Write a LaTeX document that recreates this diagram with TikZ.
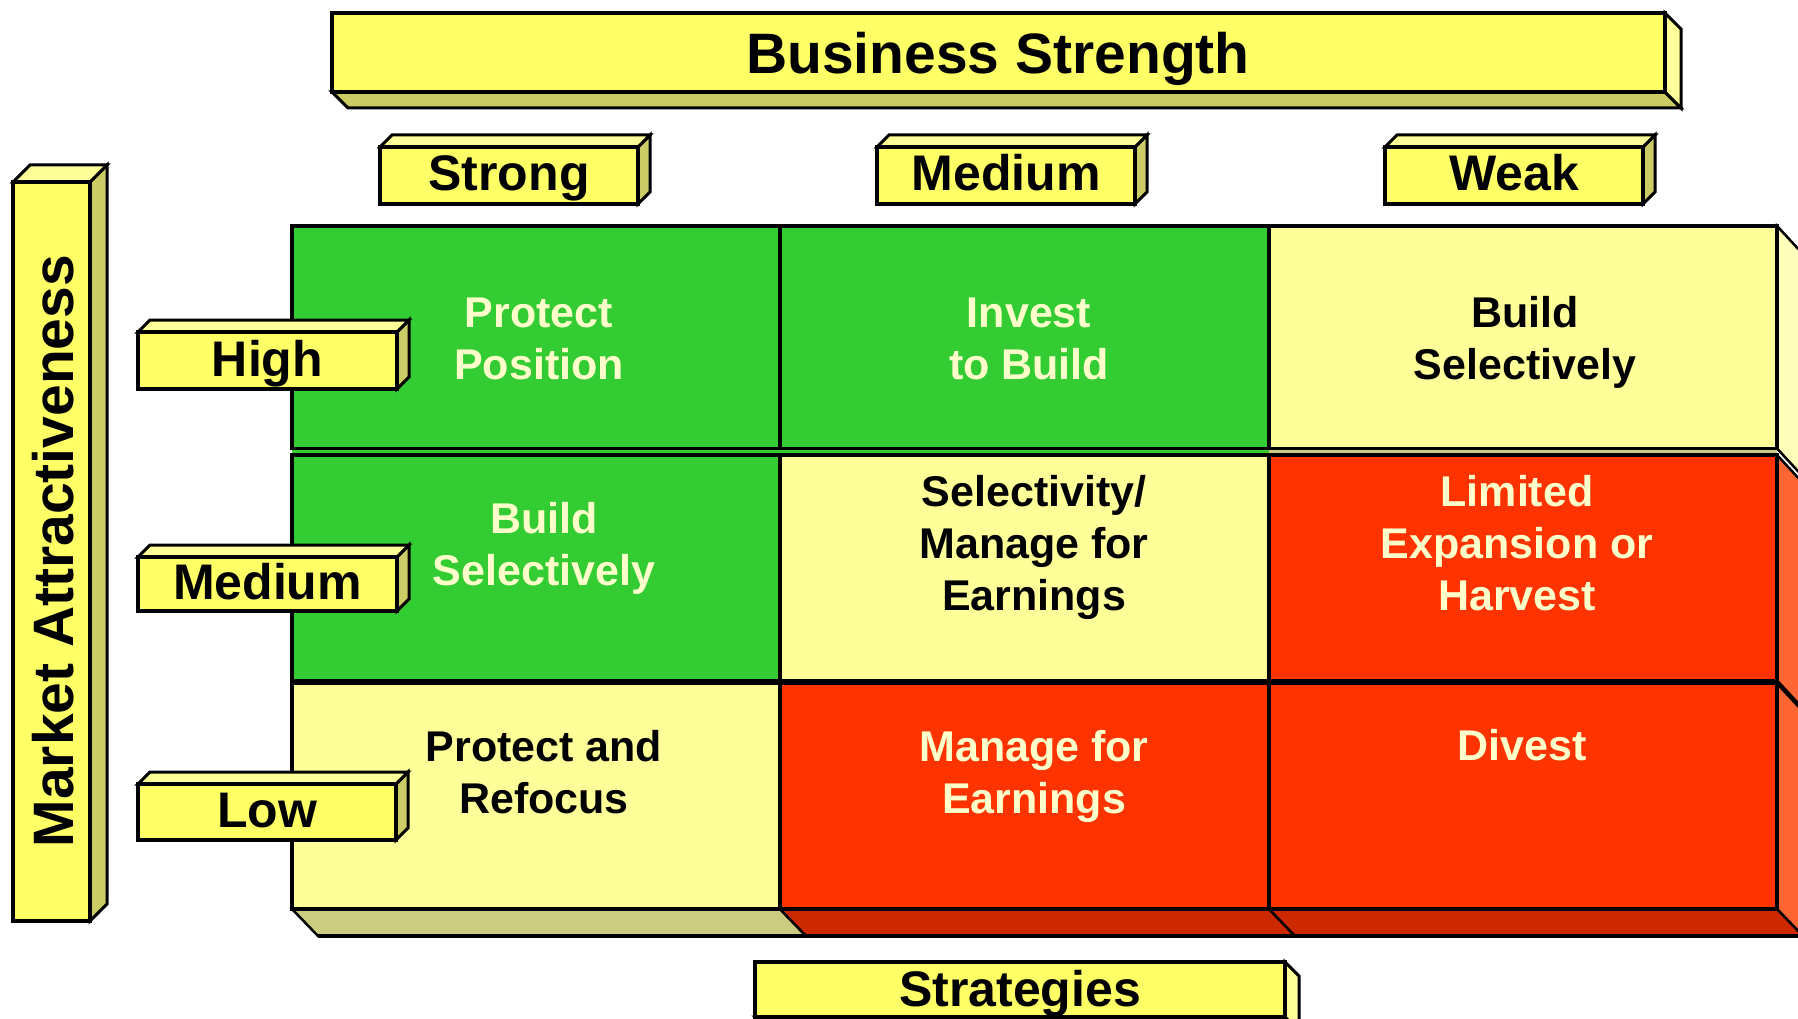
\documentclass[tikz,border=0pt]{standalone}
\usepackage{fontspec}
\setmainfont{Liberation Sans}
\definecolor{lbfront}{HTML}{FFFF66}
\definecolor{lbtop}{HTML}{FFFF99}
\definecolor{lbshade}{HTML}{CCCC66}
\definecolor{cgreen}{HTML}{33CC33}
\definecolor{cyellow}{HTML}{FFFF99}
\definecolor{cred}{HTML}{FF3300}
\definecolor{sideY}{HTML}{FFFFBB}
\definecolor{sideR}{HTML}{FF6633}
\definecolor{botY}{HTML}{CCCC80}
\definecolor{botR}{HTML}{CC2900}
\definecolor{ltext}{HTML}{FFFFCC}
\newcommand\boxur[7]{%
  \filldraw[fill=lbshade, draw=black, line width=3pt] (#4,#3) -- ++(#6,-#6) -- ({#4+#6},{#5-#6}) -- (#4,#5) -- cycle;
  \filldraw[fill=lbtop, draw=black, line width=3pt] (#2,#3) -- ++(#6,-#6) -- ({#4+#6},{#3-#6}) -- (#4,#3) -- cycle;
  \filldraw[fill=lbfront, draw=black, line width=3.5pt] (#2,#3) rectangle (#4,#5);
  \node[lbl, anchor=base] (#1) at ({(#2+#4)/2},{(#3+#5)/2+15.5}) {#7};}
\newcommand\boxdr[7]{%
  \filldraw[fill=lbshade, draw=black, line width=3pt] (#2,#5) -- ++(#6,#6) -- ({#4+#6},{#5+#6}) -- (#4,#5) -- cycle;
  \filldraw[fill=lbtop, draw=black, line width=3pt] (#4,#3) -- ++(#6,#6) -- ({#4+#6},{#5+#6}) -- (#4,#5) -- cycle;
  \filldraw[fill=lbfront, draw=black, line width=3.5pt] (#2,#3) rectangle (#4,#5);
  \node[lbl, anchor=base] (#1) at ({(#2+#4)/2},{(#3+#5)/2+17}) {#7};}
\begin{document}
\begin{tikzpicture}[x=1pt,y=-1pt,line join=miter,
  lbl/.style={font=\bfseries\fontsize{50}{60}\selectfont, text=black, inner sep=0pt},
  bigl/.style={font=\bfseries\fontsize{57}{68}\selectfont, text=black, inner sep=0pt},
  celltxt/.style={font=\bfseries\fontsize{43}{52}\selectfont, align=center, inner sep=0pt},
  edge/.style={draw=black, line width=3.5pt},
  thinedge/.style={draw=black, line width=2.5pt}]
\useasboundingbox (0,0) rectangle (1798,1019);
\clip (0,0) rectangle (1798,1019);

% Business Strength header
\boxdr{bs}{332}{13}{1665}{92}{16}{}
\node[bigl, anchor=base] (bstxt) at (998,74) {Business Strength};

% column headers
\boxur{hstrong}{380}{147}{638}{204}{12}{Strong}
\boxur{hmedium}{877}{147}{1135}{204}{12}{Medium}
\boxur{hweak}{1385}{147}{1643}{204}{12}{Weak}

% vertical Market Attractiveness
\filldraw[fill=lbshade, draw=black, line width=3pt] (90,182) -- (107,165) -- (107,904) -- (90,921) -- cycle;
\filldraw[fill=lbtop, draw=black, line width=3pt] (13,182) -- (30,165) -- (107,165) -- (90,182) -- cycle;
\filldraw[fill=lbfront, draw=black, line width=3.5pt] (13,182) rectangle (90,921);
\node[bigl, rotate=90] (matxt) at (53,551) {Market Attractiveness};

% grid: side faces
\filldraw[fill=sideY, thinedge] (1777,226) -- (1802,253) -- (1802,475.5) -- (1777,448.5) -- cycle;
\filldraw[fill=sideR, thinedge] (1777,455) -- (1802,482) -- (1802,707.5) -- (1777,680.5) -- cycle;
\filldraw[fill=sideR, thinedge] (1777,683.5) -- (1802,710.5) -- (1802,936) -- (1777,909) -- cycle;
% bottom faces
\filldraw[fill=botY, thinedge] (292,909) -- (318,936) -- (806,936) -- (780,909) -- cycle;
\filldraw[fill=botR, thinedge] (780,909) -- (806,936) -- (1295,936) -- (1269,909) -- cycle;
\filldraw[fill=botR, thinedge] (1269,909) -- (1295,936) -- (1803,936) -- (1777,909) -- cycle;
\draw[edge] (318,936) -- (1803,936);
% strip between row 1 and row 2
\fill[cgreen] (292,448) rectangle (1269,456);
\fill[botY] (1269,448) rectangle (1777,456);
% cells
\filldraw[fill=cgreen, edge] (292,226) rectangle (780,448.5);
\filldraw[fill=cgreen, edge] (780,226) rectangle (1269,448.5);
\filldraw[fill=cyellow, edge] (1269,226) rectangle (1777,448.5);
\filldraw[fill=cgreen, edge] (292,455) rectangle (780,680.5);
\filldraw[fill=cyellow, edge] (780,455) rectangle (1269,680.5);
\filldraw[fill=cred, edge] (1269,455) rectangle (1777,680.5);
\filldraw[fill=cyellow, edge] (292,683.5) rectangle (780,909);
\filldraw[fill=cred, edge] (780,683.5) rectangle (1269,909);
\filldraw[fill=cred, edge] (1269,683.5) rectangle (1777,909);

% cell texts
\node[celltxt, text=ltext] (c11) at (539,339) {Protect\\Position};
\node[celltxt, text=ltext] (c12) at (1029,339) {Invest\\to Build};
\node[celltxt, text=black] (c13) at (1525,342.5) {Build\\Selectively};
\node[celltxt, text=ltext] (c21) at (544,548) {Build\\Selectively};
\node[celltxt, text=black] (c22) at (1034,547) {Selectivity/\\Manage for\\Earnings};
\node[celltxt, text=ltext] (c23) at (1517,543) {Limited\\Expansion or\\Harvest};
\node[celltxt, text=black] (c31) at (544,772) {Protect and\\Refocus};
\node[celltxt, text=ltext] (c32) at (1034,776) {Manage for\\Earnings};
\node[celltxt, text=ltext] (c33) at (1522,745) {Divest};

% row labels
\boxur{rhigh}{138}{332}{397}{389}{12}{High}
\boxur{rmedium}{138}{557}{397}{611}{12}{Medium}
\boxur{rlow}{138}{784}{396}{840}{12}{Low}

% Strategies
\boxdr{strat}{755}{962}{1285}{1017}{14}{Strategies}
\end{tikzpicture}
\end{document}
